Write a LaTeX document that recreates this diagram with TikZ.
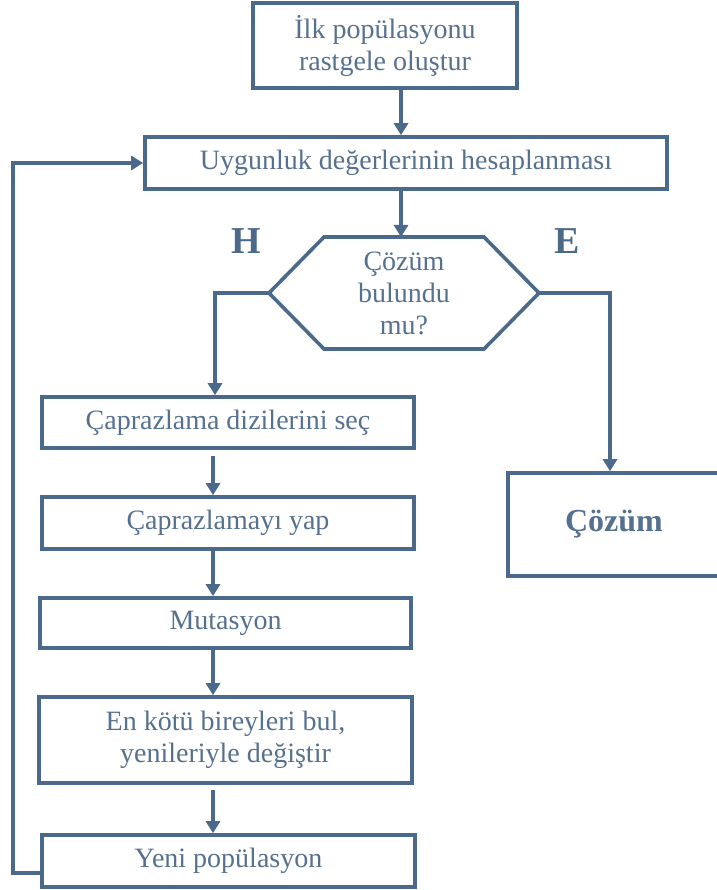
\documentclass[tikz,border=0pt]{standalone}
\usepackage{fontspec}
\setmainfont{Liberation Serif}
\usetikzlibrary{arrows.meta}
\definecolor{lineblue}{HTML}{4B6A8B}
\definecolor{textblue}{HTML}{56718F}
\begin{document}
\begin{tikzpicture}[x=1pt,y=-1pt,
  box/.style={draw=lineblue, line width=3.6pt, fill=white, text=textblue,
    align=center, inner sep=0pt, font=\fontsize{28}{32}\selectfont},
  link/.style={draw=lineblue, line width=3.6pt, -{Triangle[length=12pt,width=14pt]}},
  branchlabel/.style={text=lineblue, font=\fontsize{38}{42}\selectfont\bfseries}
]
\useasboundingbox (0,0) rectangle (716,890);

% helper columns and rows for the connectors
\coordinate (spine) at (401,0);
\coordinate (hleft) at (215,0);
\coordinate (hright) at (610,0);
\coordinate (lcol) at (213,0);
\coordinate (loop) at (13,0);
\coordinate (loopy) at (0,873);

% process boxes
\node[box, minimum width=264pt, minimum height=85pt] (init) at (385,45.5)
  {İlk popülasyonu\\rastgele oluştur};
\node[box, minimum width=522pt, minimum height=52pt] (fit) at (406,163)
  {Uygunluk değerlerinin hesaplanması};

% decision: the text node spans the hexagon, whose outline is drawn from its anchors
\node[text=textblue, align=center, inner sep=0pt, outer sep=0pt,
  font=\fontsize{28}{32}\selectfont,
  minimum width=270pt, minimum height=112pt] (dec) at (404,293)
  {Çözüm\\bulundu\\mu?};
\draw[lineblue, line width=3.6pt, line join=miter]
  (dec.west) -- ([xshift=55pt]dec.north west) -- ([xshift=-55pt]dec.north east)
  -- (dec.east) -- ([xshift=-55pt]dec.south east) -- ([xshift=55pt]dec.south west)
  -- cycle;

\node[box, minimum width=372pt, minimum height=51pt] (cross) at (228,422.5)
  {Çaprazlama dizilerini seç};
\node[box, minimum width=372pt, minimum height=52pt] (doit) at (228,523)
  {Çaprazlamayı yap};
\node[box, minimum width=371pt, minimum height=50pt] (mut) at (225.5,623)
  {Mutasyon};
\node[box, minimum width=373pt, minimum height=86pt] (worst) at (225.5,740)
  {En kötü bireyleri bul,\\yenileriyle değiştir};
\node[box, minimum width=373pt, minimum height=52pt] (newpop) at (228.5,861)
  {Yeni popülasyon};
\node[box, minimum width=212pt, minimum height=103pt] (sol) at (614,524.5)
  {\fontsize{32}{38}\selectfont\bfseries Çözüm};

% branch labels
\node[branchlabel] (hlab) at (246,241) {H};
\node[branchlabel] (elab) at (567,241) {E};

% connectors
\draw[link] (init.south -| spine) -- (fit.north -| spine);
\draw[link] (fit.south -| spine) -- (dec.north -| spine);
\draw[link] (dec.west) -- (dec.west -| hleft) -- (cross.north -| hleft);
\draw[link] (dec.east) -- (dec.east -| hright) -- (sol.north -| hright);
\draw[link, shorten <=6pt] (cross.south -| lcol) -- (doit.north -| lcol);
\draw[link] (doit.south -| lcol) -- (mut.north -| lcol);
\draw[link] (mut.south -| lcol) -- (worst.north -| lcol);
\draw[link, shorten <=5pt] (worst.south -| lcol) -- (newpop.north -| lcol);
\draw[link] (newpop.west |- loopy) -- (loop |- loopy) -- (loop |- fit.west) -- (fit.west);
\end{tikzpicture}
\end{document}
